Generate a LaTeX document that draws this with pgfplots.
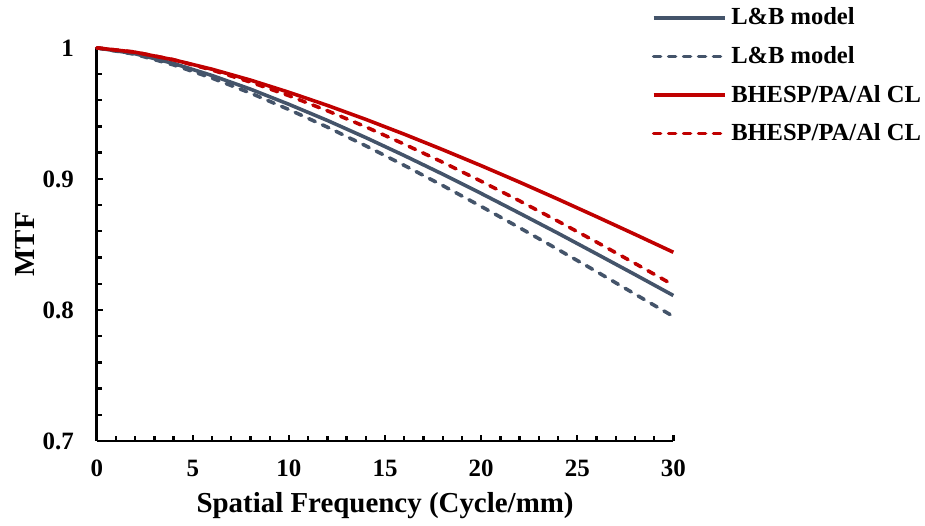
\documentclass[border=0pt]{standalone}
\usepackage{pgfplots}
\pgfplotsset{compat=1.18}
\usepackage{fontspec}
\setmainfont{Liberation Serif}
\definecolor{lbblue}{HTML}{44546A}
\definecolor{bhred}{HTML}{C00000}
\pgfplotstableread{
f    lbs     lbd     rs      rd
0    1.0000  1.0000  1.0000  1.0000
2    0.9955  0.9951  0.9967  0.9968
4    0.9881  0.9870  0.9909  0.9909
6    0.9789  0.9769  0.9837  0.9831
8    0.9685  0.9655  0.9754  0.9739
10   0.9569  0.9529  0.9661  0.9635
12   0.9446  0.9395  0.9561  0.9520
14   0.9315  0.9252  0.9454  0.9397
16   0.9178  0.9103  0.9341  0.9265
18   0.9036  0.8949  0.9223  0.9127
20   0.8889  0.8790  0.9101  0.8982
22   0.8738  0.8627  0.8975  0.8832
24   0.8585  0.8461  0.8845  0.8677
26   0.8428  0.8293  0.8712  0.8518
28   0.8270  0.8121  0.8577  0.8355
30   0.8110  0.7950  0.8440  0.8190
}\mtf
\begin{document}
\begin{tikzpicture}
\begin{axis}[
  scale only axis,
  width=289pt, height=197pt,
  xmin=0, xmax=30, ymin=0.7, ymax=1,
  clip=false,
  axis x line=bottom, axis y line=left,
  axis line style={-, line width=1.3pt, black},
  xtick={0,5,...,30}, ytick={0.7,0.8,0.9,1},
  minor x tick num=4, minor y tick num=4,
  tick align=inside,
  major tick length=3pt, minor tick length=2.5pt,
  tick style={black, line width=1.2pt},
  /pgf/number format/assume math mode=true,
  ticklabel style={font=\fontsize{12.5}{14}\selectfont\bfseries},
  yticklabel style={/pgf/number format/fixed, xshift=-8pt},
  xticklabel style={yshift=-6pt},
  xlabel={Spatial Frequency (Cycle/mm)},
  ylabel={MTF},
  label style={font=\fontsize{14.5}{16}\selectfont\bfseries},
  xlabel style={yshift=-1pt},
  ylabel style={yshift=-3pt},
  legend cell align=left,
  legend style={draw=none, fill=none, at={(0.962,1.113)}, anchor=north west,
    font=\fontsize{12.3}{14}\selectfont\bfseries, row sep=5.3pt, inner sep=0pt,
    /tikz/every even column/.append style={column sep=0pt}},
  legend image code/.code={\draw[#1] (0pt,0pt) -- (36pt,0pt);},
]
\addplot[lbblue, line width=1.8pt] table[x=f, y=lbs] {\mtf};
\addlegendentry{L\&B model}
\addplot[lbblue, line width=1.8pt, line cap=round, dash pattern=on 3.5pt off 4pt] table[x=f, y=lbd] {\mtf};
\addlegendentry{L\&B model}
\addplot[bhred, line width=1.8pt] table[x=f, y=rs] {\mtf};
\addlegendentry{BHESP/PA/Al CL}
\addplot[bhred, line width=1.8pt, line cap=round, dash pattern=on 3.5pt off 4pt] table[x=f, y=rd] {\mtf};
\addlegendentry{BHESP/PA/Al CL}
\path (rel axis cs:-0.1678,-0.2056) (rel axis cs:1.4325,1.1218);
\end{axis}
\end{tikzpicture}
\end{document}
